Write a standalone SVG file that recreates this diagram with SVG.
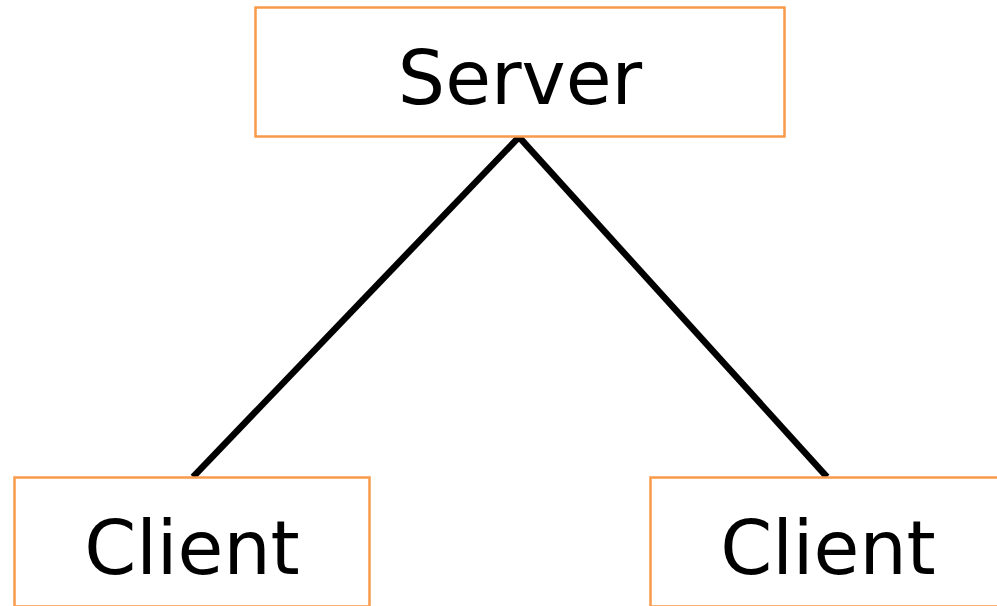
<svg xmlns="http://www.w3.org/2000/svg" width="997" height="606" viewBox="0 0 997 606">
<style>
.box{fill:#fff;stroke:#f79a4b;stroke-width:2.5}
.lbl{font-family:"DejaVu Sans",sans-serif;font-size:74.5px;fill:#000;text-anchor:middle}
.edge{stroke:#000;stroke-width:6.5;fill:none;stroke-linecap:butt}
</style>
<rect width="997" height="606" fill="#fff"/>
<g id="connectors">
<line class="edge" x1="519" y1="137" x2="193" y2="477"/>
<line class="edge" x1="519" y1="137" x2="827" y2="477"/>
</g>
<g id="server">
<rect class="box" x="255.5" y="7.5" width="529" height="129"/>
<text class="lbl" x="520" y="104">Server</text>
</g>
<g id="client1">
<rect class="box" x="14.5" y="477.5" width="355" height="129"/>
<text class="lbl" x="192" y="574">Client</text>
</g>
<g id="client2">
<rect class="box" x="650.5" y="477.5" width="355" height="129"/>
<text class="lbl" x="828" y="574">Client</text>
</g>
</svg>
